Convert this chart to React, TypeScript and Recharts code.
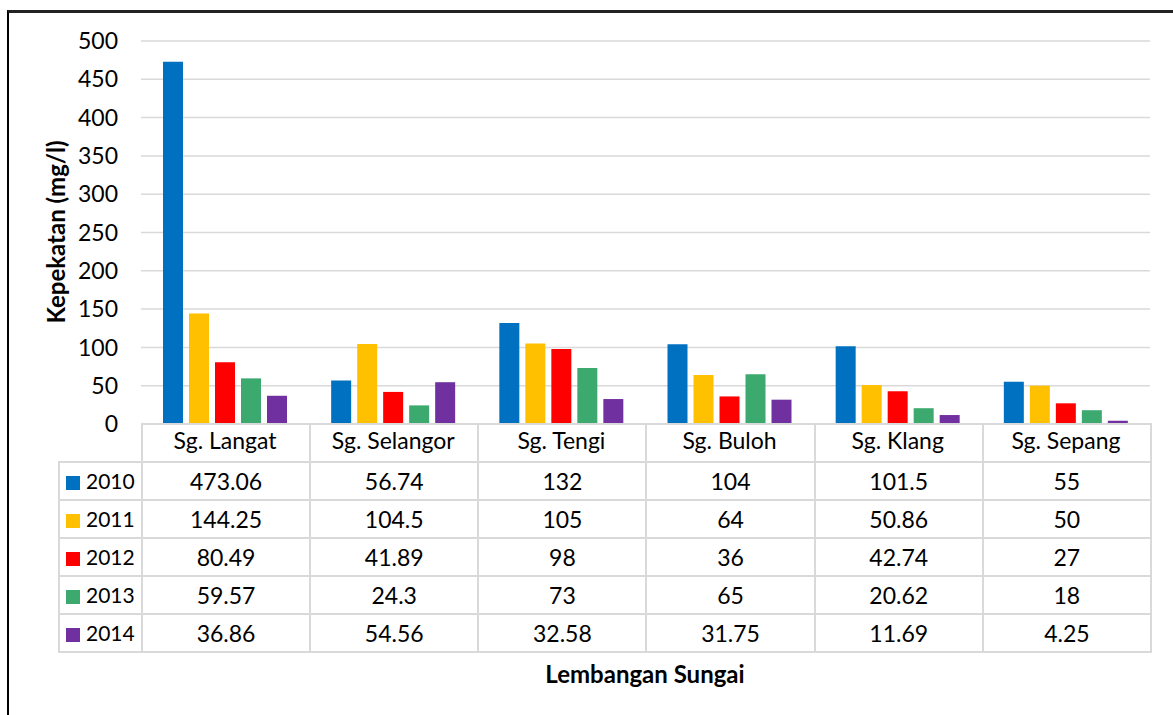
import { BarChart, Bar, XAxis, YAxis, CartesianGrid } from 'recharts';

const categories = ['Sg. Langat', 'Sg. Selangor', 'Sg. Tengi', 'Sg. Buloh', 'Sg. Klang', 'Sg. Sepang'];
const years = ['2010', '2011', '2012', '2013', '2014'];
const colors = ['#0070C0', '#FFC000', '#FF0000', '#3CA96E', '#7030A0'];

const v2010 = [473.06, 56.74, 132, 104, 101.5, 55];
const v2011 = [144.25, 104.5, 105, 64, 50.86, 50];
const v2012 = [80.49, 41.89, 98, 36, 42.74, 27];
const v2013 = [59.57, 24.3, 73, 65, 20.62, 18];
const v2014 = [36.86, 54.56, 32.58, 31.75, 11.69, 4.25];
const series = [v2010, v2011, v2012, v2013, v2014];

const yTicks = [0, 50, 100, 150, 200, 250, 300, 350, 400, 450, 500];

const data = categories.map((name, i) => {
  const row: Record<string, any> = { name };
  years.forEach((y, j) => { row[y] = series[j][i]; });
  return row;
});

const FONT = 'Lato, "Open Sans", sans-serif';
const GRID = '#d9d9d9';
const FS = 23;

export default function App() {
  const plotLeft = 141;
  const plotRight = 1150;
  const colW = (plotRight - plotLeft) / categories.length;
  const cell: React.CSSProperties = {
    border: `2px solid ${GRID}`,
    height: 36,
    padding: 0,
    textAlign: 'center',
    fontSize: FS,
    color: '#000',
    lineHeight: '36px',
  };

  return (
    <div style={{ position: 'absolute', left: 0, top: 0, width: 1173, height: 715, fontFamily: FONT, background: '#fff' }}>
      <div style={{ position: 'absolute', left: 7, top: 10, width: 1166, height: 705, borderLeft: '2px solid #000', borderTop: '3px solid #222' }} />

      <table style={{ position: 'absolute', left: 58, top: 423, width: plotRight - 58, borderCollapse: 'collapse', tableLayout: 'fixed', fontFamily: FONT }}>
        <colgroup>
          <col style={{ width: plotLeft - 58 }} />
          {categories.map(c => <col key={c} style={{ width: colW }} />)}
        </colgroup>
        <tbody>
          <tr>
            <td style={{ ...cell, borderTop: 'none', borderLeft: 'none' }} />
            {categories.map(c => <td key={c} style={cell} />)}
          </tr>
          {years.map((y, j) => (
            <tr key={y}>
              <td style={{ ...cell, textAlign: 'left', paddingLeft: 6, fontSize: 21, whiteSpace: 'nowrap' }}>
                <span style={{ display: 'inline-block', width: 14, height: 14, background: colors[j], marginRight: 6, verticalAlign: -1 }} />
                {y}
              </td>
              {series[j].map((v, i) => <td key={i} style={cell}>{v}</td>)}
            </tr>
          ))}
        </tbody>
      </table>

      <div style={{ position: 'absolute', left: 0, top: 0 }}>
        <BarChart width={1173} height={462} data={data} margin={{ top: 41, right: 1173 - plotRight, left: 31, bottom: 0 }} barSize={20} barGap={6}>
          <CartesianGrid vertical={false} stroke={GRID} strokeWidth={1.5} />
          <XAxis dataKey="name" height={38} tickLine={false} axisLine={{ stroke: GRID, strokeWidth: 2 }} tickSize={0} tickMargin={9}
            tick={{ fontSize: FS, fill: '#000', fontFamily: FONT }} interval={0} />
          <YAxis width={110} domain={[0, 500]} ticks={yTicks} axisLine={false} tickLine={false} tickSize={0} tickMargin={23}
            tick={{ fontSize: FS, fill: '#000', fontFamily: FONT }} />
          {years.map((y, j) => (
            <Bar key={y} dataKey={y} fill={colors[j]} isAnimationActive={false} />
          ))}
        </BarChart>
      </div>

      <svg style={{ position: 'absolute', left: 0, top: 0 }} width={1173} height={715}>
        <text x={55} y={232} transform="rotate(-90 55 232)" textAnchor="middle" dominantBaseline="central"
          fontSize={24} fontWeight="bold" fontFamily={FONT} fill="#000">Kepekatan (mg/l)</text>
        <text x={645} y={673} textAnchor="middle" dominantBaseline="central"
          fontSize={24} fontWeight="bold" fontFamily={FONT} fill="#000">Lembangan Sungai</text>
      </svg>
    </div>
  );
}
